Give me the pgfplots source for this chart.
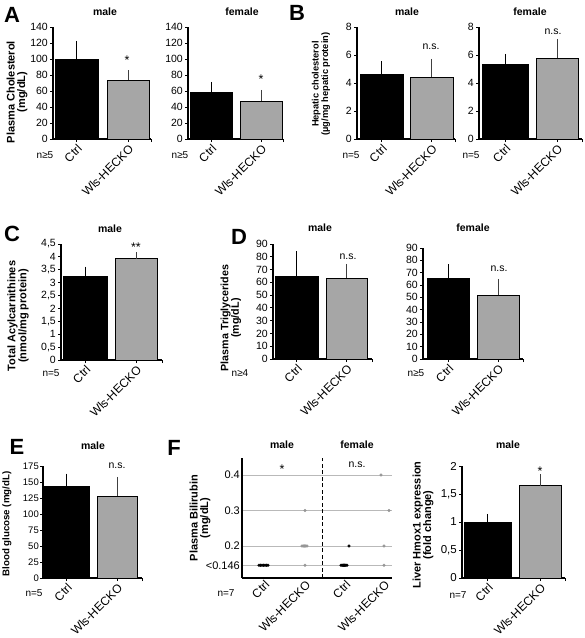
\documentclass[border=0pt]{standalone}
\usepackage{fontspec}
\setmainfont{Liberation Sans}
\usepackage{pgfplots}
\pgfplotsset{compat=1.18}
\definecolor{barg}{RGB}{166,166,166}
\definecolor{dotg}{RGB}{150,150,150}
\definecolor{gridg}{RGB}{185,185,185}
\pgfplotsset{
  barax/.style={
    scale only axis, anchor=south west,
    axis lines*=left,
    axis line style={line width=1.1pt, black},
    xmin=0, ymin=0,
    tick align=outside,
    major tick length=3pt,
    every tick/.style={black, line width=0.9pt},
    /pgf/number format/assume math mode=true,
    x tick label style={font=\fontsize{12}{13}\selectfont, rotate=45, anchor=north east, inner sep=1pt},
    y tick label style={font=\fontsize{10.5}{11}\selectfont, inner sep=2pt},
    clip=false,
  },
  bk/.style={ybar, bar shift=0pt, fill=black, draw=black, line width=0.5pt,
     error bars/y dir=plus, error bars/y explicit,
     error bars/error bar style={black, line width=0.8pt},
     error bars/error mark options={black, line width=0.8pt, mark size=2.5pt}},
  gy/.style={ybar, bar shift=0pt, fill=barg, draw=black, line width=0.5pt,
     error bars/y dir=plus, error bars/y explicit,
     error bars/error bar style={black!75, line width=0.8pt},
     error bars/error mark options={black!75, line width=0.8pt, mark size=2.5pt}},
}
\newcommand\ttl[3]{\node[font=\bfseries\fontsize{10.5}{12}\selectfont] at (#1pt,-#2pt) {#3};}
\newcommand\sig[3]{\node[font=\fontsize{10.5}{12}\selectfont] at (#1pt,-#2pt) {#3};}
\newcommand\sigast[3]{\node[font=\fontsize{12.5}{13}\selectfont] at (#1pt,-#2pt) {#3};}
\newcommand\nn[3]{\node[font=\fontsize{10}{11}\selectfont] at (#1pt,-#2pt) {#3};}
\newcommand\plet[3]{\node[font=\bfseries\fontsize{22}{24}\selectfont] at (#1pt,-#2pt) {#3};}
\begin{document}
\begin{tikzpicture}
\useasboundingbox (0,0) rectangle (585pt,-638pt);
% ---------------- A male
\begin{axis}[barax, at={(53pt,-139pt)}, width=98pt, height=112pt, xmax=98, ymax=140,
  ytick={0,20,...,140}, xtick={23.5,75,98}, xticklabels={Ctrl,Wls-HECKO,{}}]
\addplot[bar width=43, bk] coordinates {(23.5,100) +- (0,19.5)};
\addplot[bar width=42, gy] coordinates {(75,73.7) +- (0,9)};
\end{axis}
% ---------------- A female
\begin{axis}[barax, at={(188pt,-139pt)}, width=95pt, height=112pt, xmax=95, ymax=140,
  ytick={0,20,...,140}, xtick={23,73,95}, xticklabels={Ctrl,Wls-HECKO,{}}]
\addplot[bar width=42, bk] coordinates {(23,58.4) +- (0,10)};
\addplot[bar width=42, gy] coordinates {(73,47.6) +- (0,10.8)};
\end{axis}
% ---------------- B male
\begin{axis}[barax, at={(357pt,-139pt)}, width=98pt, height=112pt, xmax=98, ymax=8,
  ytick={0,2,4,6,8}, xtick={24.5,74.5,98}, xticklabels={Ctrl,Wls-HECKO,{}}]
\addplot[bar width=43, bk] coordinates {(24.5,4.65) +- (0,0.72)};
\addplot[bar width=43, gy] coordinates {(74.5,4.42) +- (0,1.12)};
\end{axis}
% ---------------- B female
\begin{axis}[barax, at={(479pt,-139pt)}, width=103pt, height=112pt, xmax=103, ymax=8,
  ytick={0,2,4,6,8}, xtick={26,78,103}, xticklabels={Ctrl,Wls-HECKO,{}}]
\addplot[bar width=46, bk] coordinates {(26,5.32) +- (0,0.58)};
\addplot[bar width=42, gy] coordinates {(78,5.78) +- (0,1.19)};
\end{axis}
% ---------------- C
\begin{axis}[barax, at={(61pt,-360pt)}, width=101pt, height=116pt, xmax=101, ymax=4.5,
  ytick={0,0.5,1,1.5,2,2.5,3,3.5,4,4.5}, /pgf/number format/use comma,
  xtick={24,75,101}, xticklabels={Ctrl,Wls-HECKO,{}}]
\addplot[bar width=44, bk] coordinates {(24,3.24) +- (0,0.29)};
\addplot[bar width=42, gy] coordinates {(75,3.93) +- (0,0.16)};
\end{axis}
% ---------------- D male
\begin{axis}[barax, at={(273pt,-359pt)}, width=99pt, height=115pt, xmax=99, ymax=90,
  ytick={0,10,...,90}, xtick={23.5,73.5,99}, xticklabels={Ctrl,Wls-HECKO,{}}]
\addplot[bar width=43, bk] coordinates {(23.5,64.7) +- (0,17.5)};
\addplot[bar width=41, gy] coordinates {(73.5,63.4) +- (0,9.1)};
\end{axis}
% ---------------- D female
\begin{axis}[barax, at={(423pt,-359pt)}, width=100pt, height=111pt, xmax=100, ymax=90,
  ytick={0,10,...,90}, xtick={25,75,100}, xticklabels={Ctrl,Wls-HECKO,{}}]
\addplot[bar width=42, bk] coordinates {(25,65.7) +- (0,9.3)};
\addplot[bar width=42, gy] coordinates {(75,51.6) +- (0,11.4)};
\end{axis}
% ---------------- E
\begin{axis}[barax, at={(43pt,-578pt)}, width=99pt, height=112pt, xmax=99, ymax=175,
  ytick={0,25,...,175}, xtick={23.5,74,99}, xticklabels={Ctrl,Wls-HECKO,{}},
  y tick label style={font=\fontsize{9.5}{10}\selectfont, inner sep=1pt}]
\addplot[bar width=45, bk] coordinates {(23.5,143) +- (0,16)};
\addplot[bar width=40, gy] coordinates {(74,128) +- (0,26)};
\end{axis}
% ---------------- F dots
\begin{axis}[scale only axis, anchor=south west, at={(242pt,-578pt)}, width=150pt, height=120pt,
  xmin=0, xmax=150, ymin=0.110, ymax=0.448, axis lines*=left, clip=false,
  axis line style={line width=1.1pt, black},
  ytick={0.146,0.2,0.3,0.4}, yticklabels={<0.146,0.2,0.3,0.4},
  ymajorgrids, grid style={gridg, line width=0.8pt},
  major tick length=0pt,
  y tick label style={font=\fontsize{11}{12}\selectfont, inner sep=2pt},
  xtick={22,63,103,142}, xticklabels={Ctrl,Wls-HECKO,Ctrl,Wls-HECKO},
  x tick label style={font=\fontsize{12}{13}\selectfont, rotate=45, anchor=north east, inner sep=1pt}]
\addplot[black, line width=0.9pt, dash pattern=on 4pt off 2.5pt] coordinates {(80,0.110) (80,0.448)};
\addplot[only marks, mark=*, mark size=1.4pt, black] coordinates {
 (17,0.146) (18.5,0.146) (20,0.146) (21.5,0.146) (23,0.146) (24.5,0.146) (26,0.146)};
\addplot[only marks, mark=*, mark size=1.4pt, dotg] coordinates {
 (63,0.3) (60,0.2) (61.25,0.2) (62.5,0.2) (63.75,0.2) (65,0.2) (63,0.146)};
\addplot[only marks, mark=*, mark size=1.4pt, black] coordinates {
 (107,0.2) (99,0.146) (100.2,0.146) (101.4,0.146) (102.6,0.146) (103.8,0.146) (105,0.146)};
\addplot[only marks, mark=*, mark size=1.4pt, dotg] coordinates {
 (139,0.4) (147,0.3) (142,0.2) (142,0.146)};
\end{axis}
% ---------------- Hmox1
\begin{axis}[barax, at={(462pt,-578pt)}, width=103pt, height=112pt, xmax=103, ymax=2,
  ytick={0,0.5,1,1.5,2}, /pgf/number format/use comma,
  y tick label style={font=\fontsize{11.5}{12}\selectfont},
  xtick={25.5,78,103}, xticklabels={Ctrl,Wls-HECKO,{}}]
\addplot[bar width=47, bk] coordinates {(25.5,0.99) +- (0,0.11)};
\addplot[bar width=42, gy] coordinates {(78,1.65) +- (0,0.16)};
\end{axis}
% ---------------- letters
\plet{12}{15}{A} \plet{297}{13}{B} \plet{12}{234}{C} \plet{239}{237}{D} \plet{17}{447}{E} \plet{174}{448}{F}
% titles
\ttl{105}{12}{male} \ttl{242}{12}{female} \ttl{407}{12}{male} \ttl{530}{12}{female}
\ttl{110}{229}{male} \ttl{320}{228}{male} \ttl{473}{228}{female}
\ttl{93}{446}{male} \ttl{282}{445}{male} \ttl{357}{445}{female} \ttl{508}{445}{male}
% significance
\sigast{127}{60}{*} \sigast{261}{79}{*} \sig{431}{47}{n.s.} \sig{553}{32}{n.s.}
\sigast{136}{247}{**} \sig{348}{257}{n.s.} \sig{499}{269}{n.s.} \sig{117}{466}{n.s.}
\sigast{282}{469}{*} \sig{357}{465}{n.s.} \sigast{540}{471}{*}
% n labels
\nn{45}{155}{n≥5} \nn{180}{155}{n≥5} \nn{351}{155}{n=5} \nn{471}{155}{n=5}
\nn{51}{373}{n=5} \nn{240}{373}{n≥4} \nn{416}{373}{n≥5}
\nn{34}{593}{n=5} \nn{226}{593}{n=7} \nn{458}{595}{n=7}
% y labels
\node[rotate=90, align=center, font=\bfseries\fontsize{11}{10.5}\selectfont] at (17pt,-92pt) {Plasma Cholesterol\\(mg/dL)};
\node[rotate=90, align=center, font=\bfseries\fontsize{9.3}{9.5}\selectfont] at (321pt,-84pt) {Hepatic cholesterol\\(µg/mg hepatic protein)};
\node[rotate=90, align=center, font=\bfseries\fontsize{11}{11}\selectfont] at (18pt,-316pt) {Total Acylcarnithines\\(nmol/mg protein)};
\node[rotate=90, align=center, font=\bfseries\fontsize{10.7}{10.5}\selectfont] at (231pt,-318pt) {Plasma Triglycerides\\(mg/dL)};
\node[rotate=90, font=\bfseries\fontsize{9.7}{10}\selectfont] at (7pt,-524pt) {Blood glucose (mg/dL)};
\node[rotate=90, align=center, font=\bfseries\fontsize{11}{10.5}\selectfont] at (200pt,-518pt) {Plasma Bilirubin\\(mg/dL)};
\node[rotate=90, align=center, font=\bfseries\fontsize{11}{10.5}\selectfont] at (423pt,-525pt) {Liver Hmox1 expression\\(fold change)};
\end{tikzpicture}
\end{document}
